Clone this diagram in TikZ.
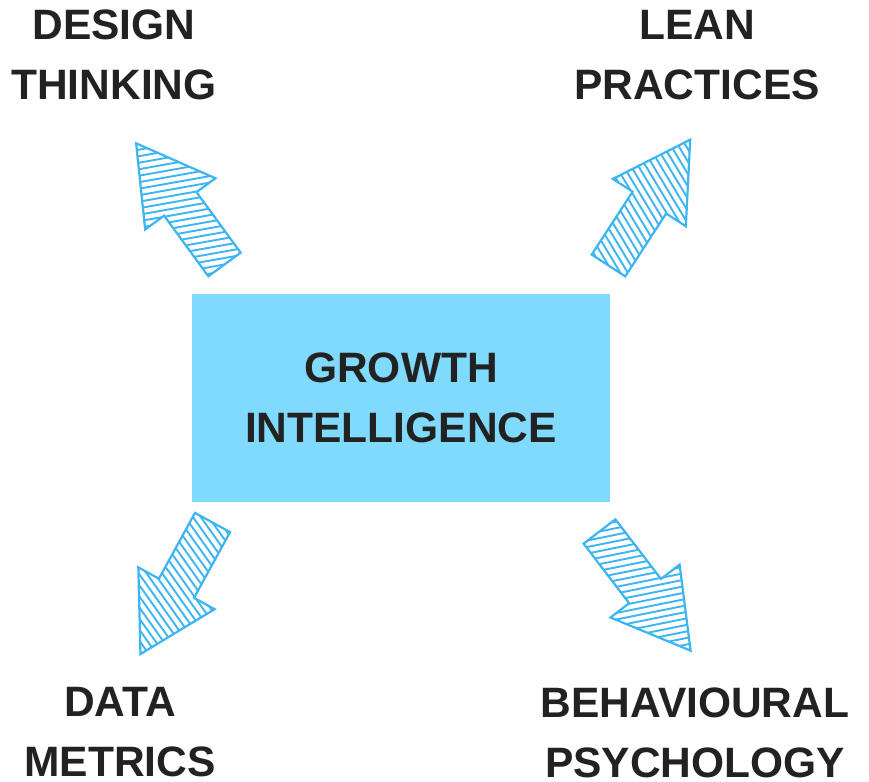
\documentclass[tikz,border=0pt]{standalone}
\usepackage{fontspec}
\setmainfont{Liberation Sans}
\usepackage{xcolor}
\definecolor{boxblue}{HTML}{80DAFE}
\definecolor{arrowblue}{HTML}{3DB5F2}
\definecolor{inkgray}{HTML}{222222}

% hatched block arrow: tail point, direction
\newcommand{\hatcharrow}[2]{%
  \begin{scope}[shift={#1}, rotate=#2]
    \begin{scope}
      \clip (0,-20) -- (75,-20) -- (75,-43.5) -- (150,0) -- (75,43.5) -- (75,20) -- (0,20) -- cycle;
      \begin{scope}[rotate=64]
        \foreach \k in {-27,...,27}
          \draw[hatch] (-170,\k*6.4) -- (170,\k*6.4);
      \end{scope}
    \end{scope}
    \draw[arrowline] (0,-20) -- (75,-20) -- (75,-43.5) -- (150,0) -- (75,43.5) -- (75,20) -- (0,20) -- cycle;
  \end{scope}}

\begin{document}
\begin{tikzpicture}[
    x=1pt, y=1pt,
    hub/.style={fill=boxblue, minimum width=418pt, minimum height=208pt, inner sep=0pt, align=center, text=inkgray, font=\fontsize{42.5}{60}\selectfont\bfseries},
    topic/.style={inner sep=0pt, align=center, text=inkgray, font=\fontsize{42.5}{60}\selectfont\bfseries},
    hatch/.style={arrowblue, line width=1.9pt},
    arrowline/.style={draw=arrowblue, line width=2.2pt, line join=miter}
  ]
    \useasboundingbox (0,0) rectangle (869,781);

    \node[hub] (growth) at (401,383) {GROWTH\\INTELLIGENCE};
    \node[topic] (design) at (114,725.7) {DESIGN\\THINKING};
    \node[topic] (lean) at (697,725.7) {LEAN\\PRACTICES};
    \node[topic] (data) at (120,49.2) {DATA\\METRICS};
    \node[topic] (behaviour) at (695,48.2) {BEHAVIOURAL\\PSYCHOLOGY};

    \coordinate (tl) at (224.5,516.5);
    \coordinate (tr) at (608.5,515.5);
    \coordinate (bl) at (212.5,258.5);
    \coordinate (br) at (599.5,249.5);

    \hatcharrow{(tl)}{126.1}
    \hatcharrow{(tr)}{57}
    \hatcharrow{(bl)}{241.3}
    \hatcharrow{(br)}{-52.6}
  \end{tikzpicture}
\end{document}
